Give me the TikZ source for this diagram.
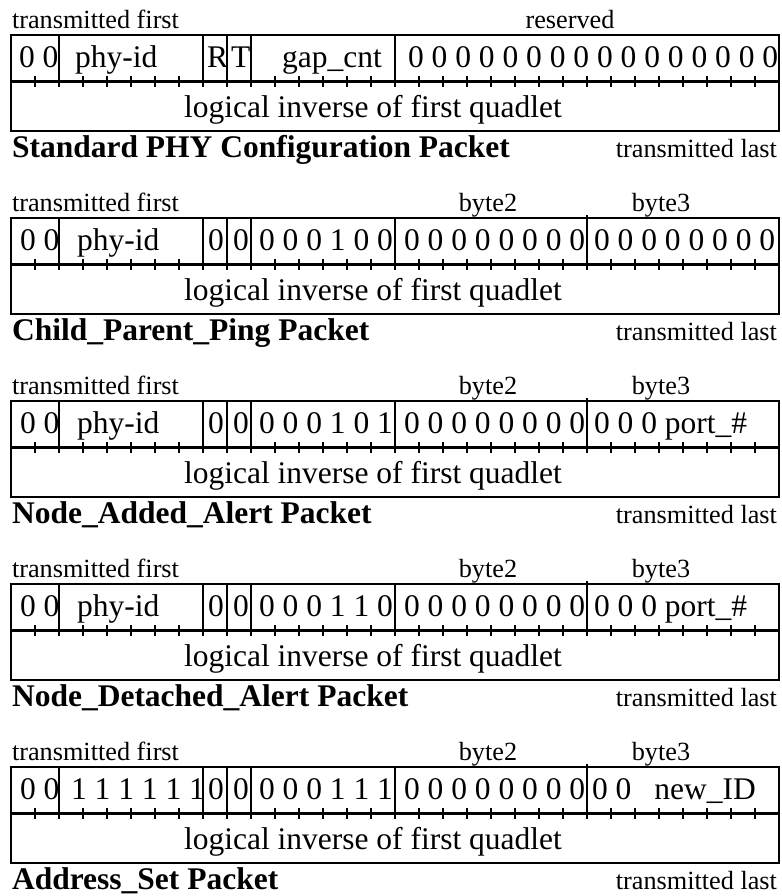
\documentclass[tikz,border=0pt]{standalone}
\usepackage{fontspec}
\setmainfont{Liberation Serif}

\begin{document}
\begin{tikzpicture}[x=0.381pt, y=-0.381pt, line width=0.8pt,
    field/.style={anchor=base west, inner sep=0pt, font=\fontsize{12}{14}\selectfont},
    note/.style={anchor=base, inner sep=0pt, font=\fontsize{10}{12}\selectfont},
    title/.style={anchor=base west, inner sep=0pt, font=\fontsize{12}{14}\selectfont\bfseries}]
    \useasboundingbox (0,0) rectangle (781,896);

    % frame, bit ticks and the common texts of each packet
    \foreach \k in {1,...,5} {
        \pgfmathsetmacro{\T}{35+183*(\k-1)}
        \draw (11,\T) rectangle (779,\T+96);
        \draw[line width=1.1pt] (11,\T+46.5) -- (779,\T+46.5);
        \foreach \b in {1,...,31}
            \draw (11+24*\b,\T+41) -- (11+24*\b,\T+52);
        \node[note, anchor=base west] (first\k) at (11,\T-7) {transmitted first};
        \node[note, anchor=base east] (last\k) at (778,\T+122) {transmitted last};
        \node[field] (inv\k) at (183,\T+82) {logical inverse of first quadlet};
    }

    % Standard PHY Configuration Packet
    \foreach \b in {2,8,9,10,16}
        \draw (11+24*\b,35) -- (11+24*\b,81.5);
    \node[field] (lead1) at (18,67) {0 0};
    \node[field] (id1) at (74,67) {phy-id};
    \node[field] (r1) at (206,67) {R};
    \node[field] (t1) at (230,67) {T};
    \node[field] (gap1) at (281,67) {gap\_cnt};
    \node[note] (resv1) at (570,28) {reserved};
    \begin{scope}
        \clip (395,35) rectangle (779,81);
        \node[field] (zero1) at (407,67) {0 0 0 0 0 0 0 0 0 0 0 0 0 0 0 0 0};
    \end{scope}
    \node[title] (name1) at (11,157) {Standard PHY Configuration Packet};

    % Child_Parent_Ping Packet
    \foreach \b in {2,8,9,10,16}
        \draw (11+24*\b,218) -- (11+24*\b,264.5);
    \draw (587,215) -- (587,264.5);
    \node[field] (lead2) at (19,250) {0 0};
    \node[field] (id2) at (76,250) {phy-id};
    \node[field] (ba2) at (207,250) {0};
    \node[field] (bb2) at (232,250) {0};
    \node[field] (code2) at (258,250) {0 0 0 1 0 0};
    \node[field] (byteb2) at (403,250) {0 0 0 0 0 0 0 0};
    \begin{scope}
        \clip (587,218) rectangle (779,264);
        \node[field] (bytec2) at (593,250) {0 0 0 0 0 0 0 0};
    \end{scope}
    \node[note] (lb2) at (488,211) {byte2};
    \node[note] (lc2) at (661,211) {byte3};
    \node[title] (name2) at (11,340) {Child\_Parent\_Ping Packet};

    % Node_Added_Alert Packet
    \foreach \b in {2,8,9,10,16}
        \draw (11+24*\b,401) -- (11+24*\b,447.5);
    \draw (587,398) -- (587,447.5);
    \node[field] (lead3) at (19,433) {0 0};
    \node[field] (id3) at (76,433) {phy-id};
    \node[field] (ba3) at (207,433) {0};
    \node[field] (bb3) at (232,433) {0};
    \node[field] (code3) at (258,433) {0 0 0 1 0 1};
    \node[field] (byteb3) at (403,433) {0 0 0 0 0 0 0 0};
    \node[field] (bytec3) at (593,433) {0 0 0 port\_\#};
    \node[note] (lb3) at (488,394) {byte2};
    \node[note] (lc3) at (661,394) {byte3};
    \node[title] (name3) at (11,523) {Node\_Added\_Alert Packet};

    % Node_Detached_Alert Packet
    \foreach \b in {2,8,9,10,16}
        \draw (11+24*\b,584) -- (11+24*\b,630.5);
    \draw (587,581) -- (587,630.5);
    \node[field] (lead4) at (19,616) {0 0};
    \node[field] (id4) at (76,616) {phy-id};
    \node[field] (ba4) at (207,616) {0};
    \node[field] (bb4) at (232,616) {0};
    \node[field] (code4) at (258,616) {0 0 0 1 1 0};
    \node[field] (byteb4) at (403,616) {0 0 0 0 0 0 0 0};
    \node[field] (bytec4) at (593,616) {0 0 0 port\_\#};
    \node[note] (lb4) at (488,577) {byte2};
    \node[note] (lc4) at (661,577) {byte3};
    \node[title] (name4) at (11,706) {Node\_Detached\_Alert Packet};

    % Address_Set Packet
    \foreach \b in {2,8,9,10,16}
        \draw (11+24*\b,767) -- (11+24*\b,813.5);
    \draw (587,764) -- (587,813.5);
    \node[field] (lead5) at (19,799) {0 0};
    \node[field] (id5) at (70,799) {1 1 1 1 1 1};
    \node[field] (ba5) at (207,799) {0};
    \node[field] (bb5) at (232,799) {0};
    \node[field] (code5) at (258,799) {0 0 0 1 1 1};
    \node[field] (byteb5) at (403,799) {0 0 0 0 0 0 0 0};
    \node[field] (bytec5) at (591,799) {0 0\hspace{0.73em}new\_ID};
    \node[note] (lb5) at (488,760) {byte2};
    \node[note] (lc5) at (661,760) {byte3};
    \node[title] (name5) at (11,889) {Address\_Set Packet};
\end{tikzpicture}
\end{document}
